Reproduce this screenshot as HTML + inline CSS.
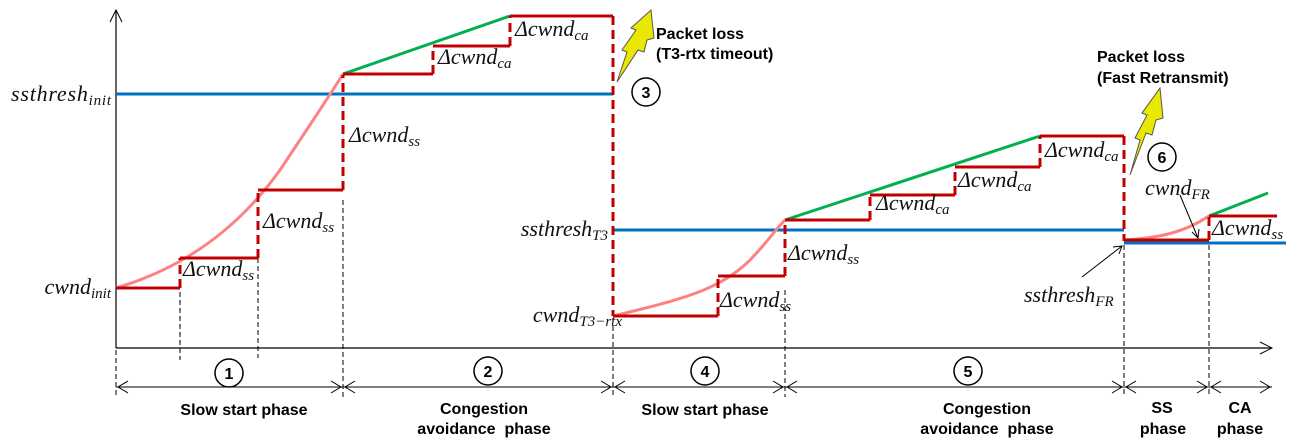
<!DOCTYPE html>
<html><head><meta charset="utf-8"><style>
html,body{margin:0;padding:0;background:#fff;}
svg{display:block;}
.m{font-family:"Liberation Serif",serif;font-style:italic;font-size:22px;fill:#111;}
.s{font-size:15px;}
.b{font-family:"Liberation Sans",sans-serif;font-weight:bold;font-size:16px;fill:#000;}
.r{stroke:#c00000;stroke-width:3;fill:none;}
.rd{stroke:#c00000;stroke-width:3;fill:none;stroke-dasharray:9,5;}
.kd{stroke:#000;stroke-width:1;fill:none;stroke-dasharray:5,3;}
</style></head><body>
<svg width="1290" height="446" viewBox="0 0 1290 446" xmlns="http://www.w3.org/2000/svg">
<line x1="116" y1="348" x2="116" y2="10" stroke="#000" stroke-width="1.2"/>
<polyline points="110,22 116,10 122,22" fill="none" stroke="#000"/>
<line x1="116" y1="348" x2="1272" y2="348" stroke="#000" stroke-width="1.2"/>
<polyline points="1260,342 1272,348 1260,354" fill="none" stroke="#000"/>
<line x1="116" y1="94" x2="613" y2="94" stroke="#0070c0" stroke-width="3"/>
<line x1="613" y1="230" x2="1124" y2="230" stroke="#0070c0" stroke-width="3"/>
<line x1="1124" y1="243" x2="1286" y2="243" stroke="#0070c0" stroke-width="3"/>
<line class="kd" x1="116" y1="350" x2="116" y2="397"/>
<line class="kd" x1="180" y1="292" x2="180" y2="360"/>
<line class="kd" x1="258" y1="258" x2="258" y2="358"/>
<line class="kd" x1="343" y1="200" x2="343" y2="397"/>
<line class="kd" x1="613" y1="318" x2="613" y2="397"/>
<line class="kd" x1="785" y1="290" x2="785" y2="397"/>
<line class="kd" x1="1124" y1="245" x2="1124" y2="397"/>
<line class="kd" x1="1209" y1="245" x2="1209" y2="397"/>
<line x1="116" y1="387" x2="1272" y2="387" stroke="#000" stroke-width="1"/>
<g fill="none" stroke="#000" stroke-width="1">
<polyline points="128,381 118,387 128,393"/><polyline points="331,381 341,387 331,393"/>
<polyline points="355,381 345,387 355,393"/><polyline points="601,381 611,387 601,393"/>
<polyline points="625,381 615,387 625,393"/><polyline points="773,381 783,387 773,393"/>
<polyline points="797,381 787,387 797,393"/><polyline points="1112,381 1122,387 1112,393"/>
<polyline points="1136,381 1126,387 1136,393"/><polyline points="1197,381 1207,387 1197,393"/>
<polyline points="1221,381 1211,387 1221,393"/><polyline points="1260,381 1270,387 1260,393"/>
</g>
<path d="M116,288 C170,272 230,240 280,170 C310,125 330,95 343,74" stroke="#ff8080" stroke-width="3" fill="none"/>
<path d="M613,316 C680,300 720,290 750,260 C765,245 775,230 785,220" stroke="#ff8080" stroke-width="3" fill="none"/>
<path d="M1124,240 C1160,238 1185,232 1209,216" stroke="#ff8080" stroke-width="3" fill="none"/>
<line x1="343" y1="74" x2="510" y2="16" stroke="#00b050" stroke-width="3"/>
<line x1="785" y1="220" x2="1040" y2="136" stroke="#00b050" stroke-width="3"/>
<line x1="1209" y1="216" x2="1268" y2="193" stroke="#00b050" stroke-width="3"/>
<polyline class="r" points="116,288 180,288"/><line class="rd" x1="180" y1="288" x2="180" y2="258"/>
<polyline class="r" points="180,258 258,258"/><line class="rd" x1="258" y1="258" x2="258" y2="190"/>
<polyline class="r" points="258,190 343,190"/><line class="rd" x1="343" y1="190" x2="343" y2="75"/>
<polyline class="r" points="343,74 433,74"/><line class="rd" x1="433" y1="74" x2="433" y2="46"/>
<polyline class="r" points="433,46 510,46"/><line class="rd" x1="510" y1="46" x2="510" y2="16"/>
<polyline class="r" points="510,16 613,16"/><line class="rd" x1="613" y1="16" x2="613" y2="316"/>
<polyline class="r" points="613,316 718,316"/><line class="rd" x1="718" y1="316" x2="718" y2="276"/>
<polyline class="r" points="718,276 785,276"/><line class="rd" x1="785" y1="276" x2="785" y2="220"/>
<polyline class="r" points="785,220 870,220"/><line class="rd" x1="870" y1="220" x2="870" y2="195"/>
<polyline class="r" points="870,195 955,195"/><line class="rd" x1="955" y1="195" x2="955" y2="167"/>
<polyline class="r" points="955,167 1040,167"/><line class="rd" x1="1040" y1="167" x2="1040" y2="136"/>
<polyline class="r" points="1040,136 1124,136"/><line class="rd" x1="1124" y1="136" x2="1124" y2="241"/>
<polyline class="r" points="1124,240 1209,240"/><line class="rd" x1="1209" y1="240" x2="1209" y2="216"/>
<polyline class="r" points="1209,216 1277,216"/>
<line x1="1082" y1="277" x2="1122" y2="246" stroke="#000" stroke-width="1"/>
<polyline points="1113,247 1122,246 1119,254" fill="none" stroke="#000"/>
<line x1="1180" y1="195" x2="1198" y2="238" stroke="#000" stroke-width="1"/>
<polyline points="1192,232 1198,238 1199,229" fill="none" stroke="#000"/>
<polygon points="617,82 627,52 622,50 636,30 631,28 651,10 654,38 647,40 644,52 638,50" fill="#e8e800" stroke="#555" stroke-width="1"/>
<polygon points="1130,175 1140,140 1135,138 1147,115 1142,113 1160,88 1163,118 1156,120 1152,135 1146,133" fill="#e8e800" stroke="#555" stroke-width="1"/>
<g fill="#fff" stroke="#000" stroke-width="1.5">
<circle cx="229" cy="373" r="14"/><circle cx="488" cy="371" r="14"/>
<circle cx="705" cy="371" r="14"/><circle cx="968" cy="371" r="14"/>
<circle cx="646" cy="92" r="14"/><circle cx="1162" cy="157" r="14"/>
</g>
<g class="b" text-anchor="middle">
<text x="229" y="379">1</text><text x="488" y="377">2</text><text x="705" y="377">4</text>
<text x="968" y="377">5</text><text x="646" y="98">3</text><text x="1162" y="163">6</text>
</g>
<g class="b" text-anchor="middle">
<text x="244" y="415">Slow start phase</text>
<text x="484" y="414">Congestion</text><text x="484" y="434">avoidance&#160; phase</text>
<text x="705" y="415">Slow start phase</text>
<text x="987" y="414">Congestion</text><text x="987" y="434">avoidance&#160; phase</text>
<text x="1162" y="413">SS</text><text x="1163" y="434">phase</text>
<text x="1240" y="413">CA</text><text x="1240" y="434">phase</text>
</g>
<g class="b">
<text x="656" y="39">Packet loss</text><text x="656" y="59">(T3-rtx timeout)</text>
<text x="1097" y="62">Packet loss</text><text x="1097" y="83">(Fast Retransmit)</text>
</g>
<g class="m">
<text x="111" y="101" text-anchor="end" textLength="100">ssthresh<tspan class="s" dy="4">init</tspan></text>
<text x="111" y="294" text-anchor="end">cwnd<tspan class="s" dy="4">init</tspan></text>
<text x="608" y="236" text-anchor="end">ssthresh<tspan class="s" dy="4">T3</tspan></text>
<text x="622" y="322" text-anchor="end">cwnd<tspan class="s" dy="4">T3−rtx</tspan></text>
<text x="1024" y="302">ssthresh<tspan class="s" dy="4">FR</tspan></text>
<text x="1145" y="195">cwnd<tspan class="s" dy="4">FR</tspan></text>
<text x="183" y="276">Δcwnd<tspan class="s" dy="4">ss</tspan></text>
<text x="263" y="228">Δcwnd<tspan class="s" dy="4">ss</tspan></text>
<text x="349" y="142">Δcwnd<tspan class="s" dy="4">ss</tspan></text>
<text x="438" y="64">Δcwnd<tspan class="s" dy="4">ca</tspan></text>
<text x="515" y="36">Δcwnd<tspan class="s" dy="4">ca</tspan></text>
<text x="720" y="307">Δcwnd<tspan class="s" dy="4">ss</tspan></text>
<text x="788" y="260">Δcwnd<tspan class="s" dy="4">ss</tspan></text>
<text x="876" y="210">Δcwnd<tspan class="s" dy="4">ca</tspan></text>
<text x="958" y="187">Δcwnd<tspan class="s" dy="4">ca</tspan></text>
<text x="1045" y="157">Δcwnd<tspan class="s" dy="4">ca</tspan></text>
<text x="1212" y="235">Δcwnd<tspan class="s" dy="4">ss</tspan></text>
</g>
</svg>
</body></html>
